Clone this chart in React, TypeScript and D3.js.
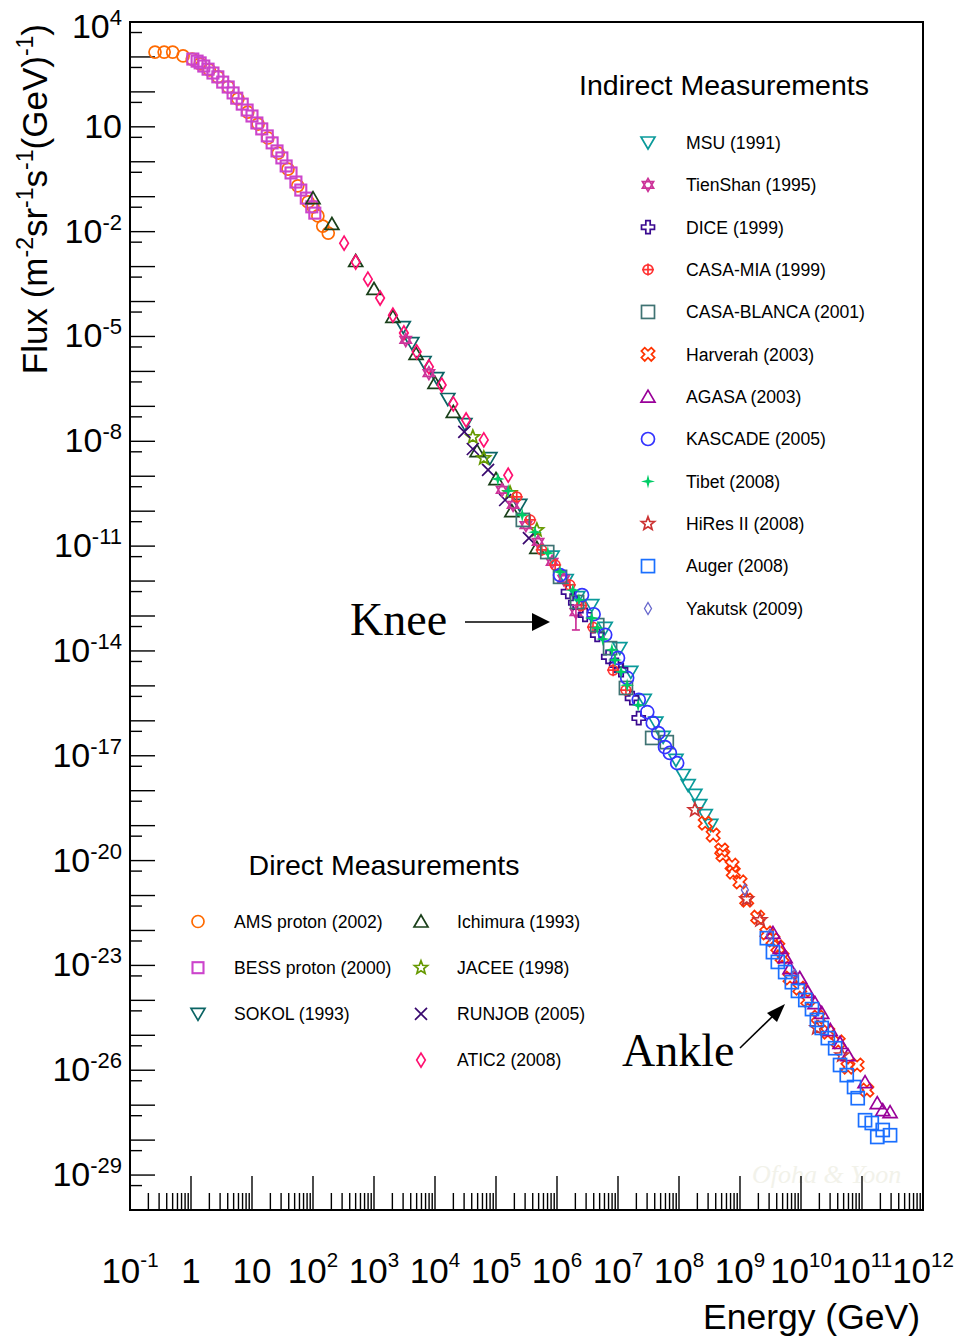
import * as d3 from "d3";

// Values, stored as [log10(E / GeV), log10(flux / m^-2 sr^-1 s^-1 GeV^-1)]
const amsProton = [[-0.59,3.14],[-0.44,3.14],[-0.30,3.14],[-0.13,3.03],[0.02,2.94],[0.15,2.80],[0.30,2.63],[0.44,2.43],[0.61,2.14],[0.77,1.80],[0.93,1.42],[1.10,1.08],[1.26,0.68],[1.43,0.25],[1.59,-0.21],[1.75,-0.69],[1.92,-1.15],[2.00,-1.29],[2.08,-1.55],[2.16,-1.84],[2.25,-2.04]];
const bessProton = [[0.03,2.94],[0.10,2.88],[0.15,2.83],[0.21,2.74],[0.28,2.65],[0.36,2.54],[0.44,2.43],[0.52,2.28],[0.61,2.14],[0.69,1.97],[0.75,1.82],[0.84,1.65],[0.92,1.48],[1.00,1.31],[1.08,1.11],[1.16,0.94],[1.25,0.74],[1.33,0.54],[1.41,0.31],[1.49,0.11],[1.56,-0.12],[1.64,-0.32],[1.72,-0.58],[1.80,-0.81],[1.89,-1.04],[1.98,-1.29],[2.03,-1.47]];
const sokol = [[3.48,-4.73],[3.62,-5.19],[3.82,-5.73],[4.03,-6.19],[4.21,-6.79],[4.49,-7.51],[4.90,-8.48],[5.39,-9.82]];
const ichimura = [[2.00,-1.04],[2.31,-1.78],[2.70,-2.84],[3.00,-3.64],[3.31,-4.44],[3.69,-5.50],[4.00,-6.33],[4.30,-7.16],[4.69,-8.28],[5.00,-9.08],[5.26,-10.00],[5.67,-11.05]];
const jacee = [[4.62,-7.88],[4.80,-8.48],[5.23,-9.48],[5.67,-10.54]];
const runjob = [[4.48,-7.73],[4.62,-8.22],[4.87,-8.82],[5.15,-9.68],[5.54,-10.77]];
const atic2 = [[2.51,-2.33],[2.70,-2.87],[2.90,-3.36],[3.10,-3.90],[3.31,-4.39],[3.49,-4.90],[3.70,-5.44],[3.90,-5.87],[4.11,-6.39],[4.30,-6.93],[4.51,-7.39],[4.80,-7.96],[5.20,-8.97]];

const msu = [[5.92,-11.30],[6.15,-11.97],[6.34,-12.46],[6.57,-12.69],[6.79,-13.34],[7.03,-13.92],[7.21,-14.60],[7.43,-15.40],[7.62,-16.05],[7.74,-16.46],[7.95,-17.12],[8.07,-17.55],[8.15,-17.84],[8.26,-18.12],[8.34,-18.41],[8.43,-18.70],[8.52,-18.98]];
const tienShan = [[3.52,-5.10],[3.90,-6.05],[5.10,-9.39],[5.28,-9.82],[5.49,-10.40],[5.69,-10.88],[5.92,-11.45],[6.11,-11.94],[6.31,-12.89]];
// [log10 E, low, high]
const tienShanErr = [[6.31,-13.40,-12.69]];
const dice = [[6.18,-12.31],[6.30,-12.62],[6.46,-12.97],[6.66,-13.54],[6.84,-14.17],[6.97,-14.40],[7.05,-14.55],[7.23,-15.35],[7.34,-15.92]];
const casaMia = [[5.34,-9.59],[5.56,-10.25],[5.75,-11.11],[5.97,-11.54],[6.21,-12.11],[6.40,-12.70],[6.59,-13.32],[6.92,-14.55],[7.13,-15.12]];
const casaBlanca = [[5.44,-10.25],[5.84,-11.17],[6.05,-11.88],[6.33,-12.60],[6.66,-13.26],[6.87,-13.92],[7.13,-15.06],[7.56,-16.49],[7.80,-16.61]];
const harverah = [[8.43,-18.93],[8.56,-19.27],[8.70,-19.70],[8.72,-19.84],[8.87,-20.13],[8.89,-20.33],[9.00,-20.61],[9.11,-21.13],[9.29,-21.62],[9.44,-22.07],[9.54,-22.27],[9.62,-22.47],[9.69,-22.76],[9.82,-23.36],[9.98,-23.65],[10.11,-23.99],[10.28,-24.48],[10.44,-24.91],[10.61,-25.19],[10.77,-25.91],[10.92,-25.85],[11.08,-26.57]];
const agasa = [[9.54,-22.07],[9.66,-22.50],[9.74,-22.76],[9.82,-23.08],[9.98,-23.36],[10.11,-23.76],[10.23,-24.08],[10.34,-24.36],[10.48,-24.85],[10.64,-25.22],[10.77,-25.57],[11.05,-26.34],[11.25,-26.94],[11.34,-27.14],[11.46,-27.20]];
const kascade = [[6.05,-11.83],[6.41,-12.40],[6.60,-12.95],[6.79,-13.54],[7.00,-14.20],[7.15,-14.77],[7.34,-15.40],[7.48,-15.75],[7.57,-16.06],[7.66,-16.35],[7.77,-16.75],[7.85,-16.92],[7.97,-17.21]];
const tibet = [[5.03,-9.08],[5.20,-9.42],[5.43,-10.11],[5.64,-10.60],[5.85,-11.20],[6.05,-11.74],[6.26,-12.26],[6.36,-12.54],[6.57,-13.06],[6.66,-13.34],[6.75,-13.66],[6.90,-13.97],[6.95,-14.26],[7.05,-14.60],[7.15,-14.98],[7.33,-15.55]];
const hires2 = [[8.26,-18.55],[9.11,-21.10],[9.33,-21.70],[10.26,-24.79],[10.67,-25.57]];
const auger = [[9.44,-22.22],[9.54,-22.62],[9.62,-22.90],[9.74,-23.19],[9.85,-23.48],[9.95,-23.73],[10.07,-23.99],[10.18,-24.25],[10.26,-24.56],[10.34,-24.79],[10.44,-25.08],[10.56,-25.37],[10.64,-25.85],[10.75,-26.14],[10.87,-26.48],[10.93,-26.80],[11.05,-27.43],[11.16,-27.51],[11.25,-27.91],[11.34,-27.71],[11.46,-27.86]];
const yakutsk = [[9.08,-20.84],[9.49,-22.13],[9.90,-23.28]];

// axis tick exponents
const xDecades = d3.range(-1, 13);
const yDecades = d3.range(-30, 5);
const yLabelExps = [4, 1, -2, -5, -8, -11, -14, -17, -20, -23, -26, -29];

const direct = [
  { name: "AMS proton (2002)", shape: "circle", color: "#ff6a00", data: amsProton },
  { name: "BESS proton (2000)", shape: "squareThick", color: "#cc44cc", data: bessProton },
  { name: "SOKOL (1993)", shape: "triDown", color: "#0b6464", data: sokol },
  { name: "Ichimura (1993)", shape: "triUp", color: "#1a401a", data: ichimura },
  { name: "JACEE (1998)", shape: "star5", color: "#669900", data: jacee },
  { name: "RUNJOB (2005)", shape: "x", color: "#38086e", data: runjob },
  { name: "ATIC2 (2008)", shape: "diamond", color: "#ff1070", data: atic2 },
];

const indirect = [
  { name: "MSU (1991)", shape: "triDown", color: "#0a9a9a", data: msu },
  { name: "TienShan (1995)", shape: "hexagram", color: "#cc3399", data: tienShan },
  { name: "DICE (1999)", shape: "plus", color: "#3a0a90", data: dice },
  { name: "CASA-MIA (1999)", shape: "circlePlus", color: "#ff3333", data: casaMia },
  { name: "CASA-BLANCA (2001)", shape: "square", color: "#3f7373", data: casaBlanca },
  { name: "Harverah (2003)", shape: "plusX", color: "#ff3300", data: harverah },
  { name: "AGASA (2003)", shape: "triUp", color: "#990099", data: agasa },
  { name: "KASCADE (2005)", shape: "circleBig", color: "#3333ff", data: kascade },
  { name: "Tibet (2008)", shape: "star4", color: "#00cc66", data: tibet },
  { name: "HiRes II (2008)", shape: "star5", color: "#cc3333", data: hires2 },
  { name: "Auger (2008)", shape: "square", color: "#1a6fff", data: auger },
  { name: "Yakutsk (2009)", shape: "diamondSmall", color: "#6666cc", data: yakutsk },
];

const SANS = "'Liberation Sans', Arial, Helvetica, sans-serif";
const SERIF = "'Liberation Serif', 'Times New Roman', serif";

const x = d3.scaleLog().domain([1e-1, 1e12]).range([130, 923]);
const y = d3.scaleLog().domain([1e-30, 1e4]).range([1210, 22]);
const px = (d: number[]) => x(Math.pow(10, d[0]));
const py = (v: number) => y(Math.pow(10, v));

function starPath(n: number, R: number, r: number) {
  const pts: string[] = [];
  for (let i = 0; i < 2 * n; i++) {
    const a = -Math.PI / 2 + (i * Math.PI) / n;
    const rad = i % 2 === 0 ? R : r;
    pts.push(`${(rad * Math.cos(a)).toFixed(2)},${(rad * Math.sin(a)).toFixed(2)}`);
  }
  return "M" + pts.join("L") + "Z";
}

function plusPath(s: number, a: number) {
  return `M${-a},${-s}H${a}V${-a}H${s}V${a}H${a}V${s}H${-a}V${a}H${-s}V${-a}H${-a}Z`;
}

function Shape({ shape, color }: { shape: string; color: string }) {
  const st = { fill: "none", stroke: color, strokeWidth: 1.7 };
  switch (shape) {
    case "circle": return <circle r={6} {...st} />;
    case "circleBig": return <circle r={6.5} {...st} />;
    case "squareThick": return <rect x={-5.5} y={-5.5} width={11} height={11} {...st} strokeWidth={2.1} />;
    case "square": return <rect x={-6.5} y={-6.5} width={13} height={13} {...st} />;
    case "triUp": return <path d="M0,-6.5L7,5.5L-7,5.5Z" {...st} />;
    case "triDown": return <path d="M0,6.5L7,-5.5L-7,-5.5Z" {...st} />;
    case "diamond": return <path d="M0,-7L4.3,0L0,7L-4.3,0Z" {...st} />;
    case "diamondSmall": return <path d="M0,-6L3.5,0L0,6L-3.5,0Z" {...st} strokeWidth={1.3} />;
    case "star5": return <path d={starPath(5, 7, 3)} {...st} />;
    case "x": return <path d="M-6,-6L6,6M6,-6L-6,6" {...st} />;
    case "plus": return <path d={plusPath(6.5, 2.2)} {...st} />;
    case "plusX": return <path d={plusPath(7, 2.4)} transform="rotate(45)" {...st} />;
    case "hexagram": return <path d="M0,-6.5L5.6,3.25L-5.6,3.25ZM0,6.5L5.6,-3.25L-5.6,-3.25Z" {...st} />;
    case "star4": return <path d={starPath(4, 7, 2)} fill={color} stroke="none" />;
    case "circlePlus":
      return (
        <g {...st}>
          <circle r={4.8} />
          <path d="M-6,0H6M0,-6V6" />
        </g>
      );
    default: return null;
  }
}

function Series({ s }: { s: { shape: string; color: string; data: number[][] } }) {
  return (
    <g>
      {s.data.map((d, i) => (
        <g key={i} transform={`translate(${px(d)},${py(d[1])})`}>
          <Shape shape={s.shape} color={s.color} />
        </g>
      ))}
    </g>
  );
}

function Pow({ base, exp, size, supSize, rise }: { base: string; exp: string | null; size: number; supSize: number; rise: number }) {
  return (
    <>
      <tspan fontSize={size}>{base}</tspan>
      {exp !== null && <tspan fontSize={supSize} dy={-rise}>{exp}</tspan>}
    </>
  );
}

export default function App() {
  const xMinor: number[] = [];
  xDecades.slice(0, -1).forEach((k) => {
    for (let m = 2; m <= 9; m++) xMinor.push(m * Math.pow(10, k));
  });
  const yShort = yDecades.slice(1).map((k) => 5 * Math.pow(10, k - 1));

  return (
    <svg width={960} height={1340} style={{ position: "absolute", left: 0, top: 0, background: "#fff" }} fontFamily={SANS}>
      <rect width={960} height={1340} fill="#fff" />

      {/* watermark */}
      <text x={752} y={1183} fontFamily={SERIF} fontStyle="italic" fontSize={26} fill="#f2f2ea">Ofoha &amp; Yoon</text>

      {/* ticks */}
      <g stroke="#000" strokeWidth={1.4}>
        {xDecades.map((k) => (
          <line key={"xM" + k} x1={x(Math.pow(10, k))} x2={x(Math.pow(10, k))} y1={1210} y2={1176} />
        ))}
        {xMinor.map((v, i) => (
          <line key={"xm" + i} x1={x(v)} x2={x(v)} y1={1210} y2={1193} />
        ))}
        {yDecades.map((k) => (
          <line key={"yM" + k} x1={130} x2={155} y1={y(Math.pow(10, k))} y2={y(Math.pow(10, k))} />
        ))}
        {yShort.map((v, i) => (
          <line key={"ym" + i} x1={130} x2={142} y1={y(v)} y2={y(v)} />
        ))}
      </g>

      {/* frame */}
      <rect x={130} y={22} width={793} height={1188} fill="none" stroke="#000" strokeWidth={2} />

      {/* y tick labels */}
      {yLabelExps.map((k, i) => (
        <text key={"yl" + k} x={122} y={i === 0 ? 38 : y(Math.pow(10, k)) + 11} textAnchor="end" fill="#000">
          <Pow base="10" exp={k === 1 ? null : String(k)} size={34} supSize={22} rise={13} />
        </text>
      ))}

      {/* x tick labels */}
      {xDecades.map((k) => (
        <text key={"xl" + k} x={x(Math.pow(10, k))} y={1283} textAnchor="middle" fill="#000">
          <Pow base={k === 0 ? "1" : "10"} exp={k === 0 || k === 1 ? null : String(k)} size={35} supSize={20.5} rise={16} />
        </text>
      ))}

      {/* axis titles */}
      <text x={920} y={1329} textAnchor="end" fontSize={35.5}>Energy (GeV)</text>
      <text transform="translate(47,24) rotate(-90)" textAnchor="end" fontSize={35}>
        Flux (m<tspan fontSize={23} dy={-14}>-2</tspan>
        <tspan dy={14}>sr</tspan><tspan fontSize={23} dy={-14}>-1</tspan>
        <tspan dy={14}>s</tspan><tspan fontSize={23} dy={-14}>-1</tspan>
        <tspan dy={14}>(GeV)</tspan><tspan fontSize={23} dy={-14}>-1</tspan>
        <tspan dy={14}>)</tspan>
      </text>

      {/* data */}
      {direct.map((s) => <Series key={s.name} s={s} />)}
      {indirect.map((s) => <Series key={s.name} s={s} />)}
      <g stroke="#cc3399" strokeWidth={1.7}>
        {tienShanErr.map((d, i) => {
          const cx = px(d);
          return (
            <g key={i}>
              <line x1={cx} x2={cx} y1={py(d[1])} y2={py(d[2])} />
              <line x1={cx - 4} x2={cx + 4} y1={py(d[1])} y2={py(d[1])} />
              <line x1={cx - 4} x2={cx + 4} y1={py(d[2])} y2={py(d[2])} />
            </g>
          );
        })}
      </g>

      {/* legends */}
      <text x={724} y={95} textAnchor="middle" fontSize={28.5}>Indirect Measurements</text>
      {indirect.map((s, i) => {
        const ly = 142.5 + i * 42.36;
        return (
          <g key={s.name}>
            <g transform={`translate(648,${ly})`}><Shape shape={s.shape} color={s.color} /></g>
            <text x={686} y={ly + 6.3} fontSize={17.6}>{s.name}</text>
          </g>
        );
      })}
      <text x={384} y={875} textAnchor="middle" fontSize={28.5}>Direct Measurements</text>
      {direct.map((s, i) => {
        const col = i < 3 ? 0 : 1;
        const row = col === 0 ? i : i - 3;
        const ly = 921.5 + row * 46.2;
        const mx = col === 0 ? 198 : 421;
        const tx = col === 0 ? 234 : 457;
        return (
          <g key={s.name}>
            <g transform={`translate(${mx},${ly})`}><Shape shape={s.shape} color={s.color} /></g>
            <text x={tx} y={ly + 6.3} fontSize={17.6}>{s.name}</text>
          </g>
        );
      })}

      {/* annotations */}
      <text x={350} y={635} fontFamily={SERIF} fontSize={46}>Knee</text>
      <line x1={465} y1={622} x2={534} y2={622} stroke="#000" strokeWidth={1.6} />
      <path d="M550,622L532,613L532,631Z" fill="#000" />
      <text x={622} y={1066} fontFamily={SERIF} fontSize={46}>Ankle</text>
      <line x1={740} y1={1048} x2={775} y2={1014} stroke="#000" strokeWidth={1.6} />
      <path d="M785,1004L767,1013L777,1022Z" fill="#000" />
    </svg>
  );
}
